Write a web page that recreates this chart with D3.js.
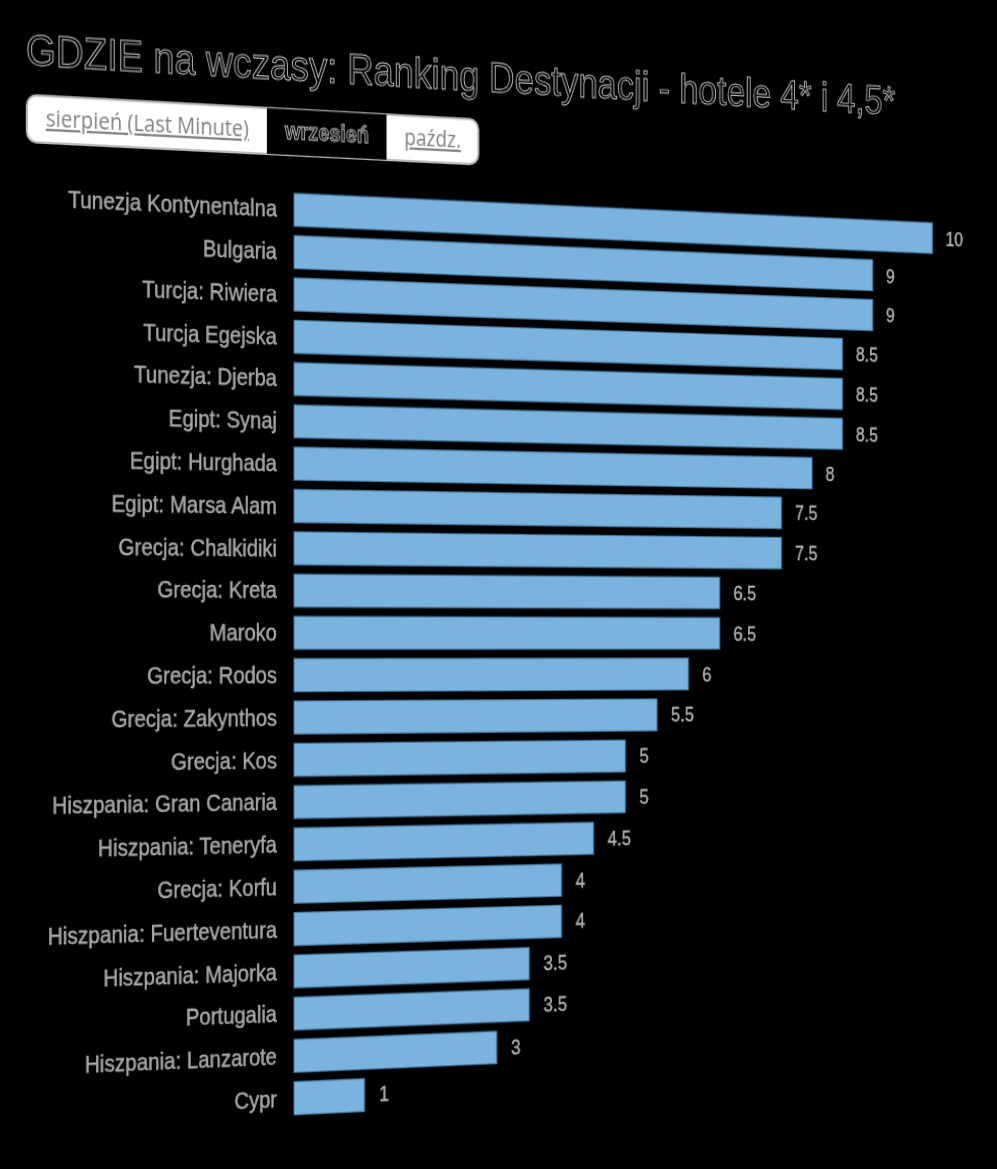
<!DOCTYPE html>
<html><head><meta charset="utf-8">
<script src="https://cdn.jsdelivr.net/npm/d3@7"></script>
<style>
html,body{margin:0;padding:0;background:#000;overflow:hidden;width:997px;height:1169px;}
#stage{position:absolute;left:0;top:0;width:1100px;height:1100px;transform-origin:0 0;}
</style></head><body><div id="stage"></div>
<script>
const title = "GDZIE na wczasy: Ranking Destynacji - hotele 4* i 4,5*";
const tabs = ["sierpień (Last Minute)", "wrzesień", "paźdz."];
const selectedTab = 1;
const categories = [
  "Tunezja Kontynentalna", "Bulgaria", "Turcja: Riwiera", "Turcja Egejska",
  "Tunezja: Djerba", "Egipt: Synaj", "Egipt: Hurghada", "Egipt: Marsa Alam",
  "Grecja: Chalkidiki", "Grecja: Kreta", "Maroko", "Grecja: Rodos",
  "Grecja: Zakynthos", "Grecja: Kos", "Hiszpania: Gran Canaria", "Hiszpania: Teneryfa",
  "Grecja: Korfu", "Hiszpania: Fuerteventura", "Hiszpania: Majorka", "Portugalia",
  "Hiszpania: Lanzarote", "Cypr"
];
const values = [10, 9, 9, 8.5, 8.5, 8.5, 8, 7.5, 7.5, 6.5, 6.5, 6, 5.5, 5, 5, 4.5, 4, 4, 3.5, 3.5, 3, 1];
const xDomain = [0, 10];

// perspective (chart viewed at an angle)
const D = 9800, X0 = 294, YH = 645, SY = 1.15;
const m = [1 + X0 / D, YH / D, 0, 1 / D, 0, 1, 0, 0, 0, 0, 1, 0, -X0 * X0 / D, -X0 * YH / D, 0, 1 - X0 / D];
d3.select('#stage').style('transform', `matrix3d(${m.join(',')}) scale(1, ${SY})`);

const svg = d3.select('#stage').append('svg').attr('width', 1100).attr('height', 1100);
const FONT = '"Liberation Sans", Arial, sans-serif';

// title
svg.append('text').attr('x', 33).attr('y', 70).text(title)
  .attr('font-family', FONT).attr('font-size', 36.8)
  .attr('fill', '#0a0a0a').attr('stroke', '#bdbdbd').attr('stroke-width', 0.9);

// tab toggle
const tabG = svg.append('g');
const boxX = 34, boxY = 95.3, boxH = 39.6, pad = 18;
const box = tabG.append('rect').attr('x', boxX).attr('y', boxY).attr('height', boxH).attr('rx', 9)
  .attr('fill', '#fff').attr('stroke', '#bbb').attr('stroke-width', 2);
let cursor = boxX;
tabs.forEach((t, i) => {
  const sel = i === selectedTab;
  const bg = tabG.append('rect').attr('x', cursor).attr('y', boxY).attr('height', boxH)
    .attr('fill', sel ? '#000' : 'none');
  const tx = tabG.append('text').attr('x', cursor + pad).attr('y', boxY + boxH / 2 + 6).text(t)
    .attr('font-size', sel ? 20 : 19.6);
  if (sel) {
    tx.attr('font-family', FONT).attr('font-weight', 'bold').attr('fill', '#151515')
      .attr('stroke', '#c0c0c0').attr('stroke-width', 0.8);
  } else {
    tx.attr('font-family', '"Open Sans", sans-serif').attr('fill', '#808080')
      .style('text-decoration', 'underline');
  }
  const w = tx.node().getComputedTextLength() + 2 * pad;
  bg.attr('width', w);
  cursor += w;
});
box.attr('width', cursor - boxX);

// bars
const left = 294;
const x = d3.scaleLinear().domain(xDomain).range([3, 683]);
const y = d3.scaleBand().domain(categories).range([160, 977.5]).padding(0.22);

const rows = svg.append('g').selectAll('g').data(categories).join('g');
rows.append('rect')
  .attr('x', left).attr('y', d => y(d))
  .attr('width', (d, i) => x(values[i])).attr('height', y.bandwidth())
  .attr('fill', '#7bb3df').attr('stroke', '#43799f').attr('stroke-width', 1);
rows.append('text')
  .attr('x', left - 17).attr('y', d => y(d) + y.bandwidth() / 2)
  .attr('text-anchor', 'end').attr('dominant-baseline', 'central')
  .attr('font-family', FONT).attr('font-size', 20)
  .attr('fill', '#a4a4a4').attr('stroke', '#c8c8c8').attr('stroke-width', 0.3)
  .text(d => d);
rows.append('text')
  .attr('x', (d, i) => left + x(values[i]) + 15).attr('y', d => y(d) + y.bandwidth() / 2)
  .attr('dominant-baseline', 'central')
  .attr('font-family', FONT).attr('font-size', 18)
  .attr('fill', '#a8a8a8').attr('stroke', '#cfcfcf').attr('stroke-width', 0.3)
  .text((d, i) => String(values[i]));
</script></body></html>
